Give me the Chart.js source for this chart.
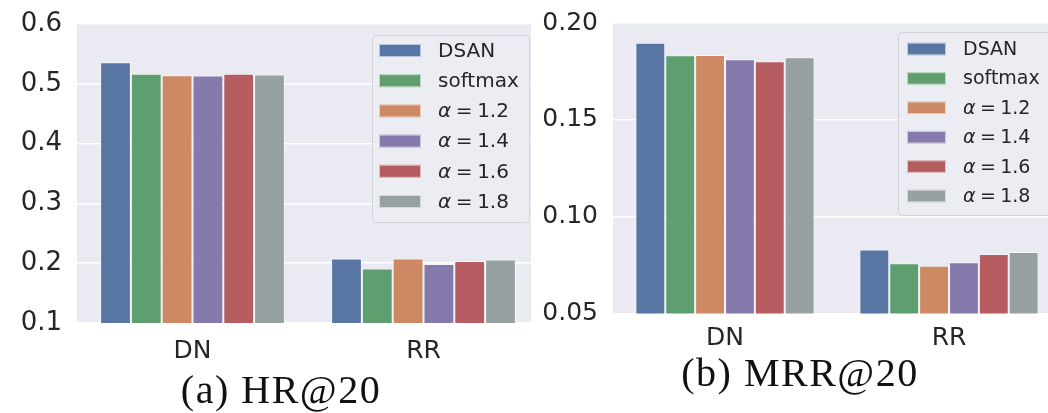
<!DOCTYPE html>
<html>
<head>
<meta charset="utf-8">
<script src="https://cdn.jsdelivr.net/npm/chart.js@4/dist/chart.umd.min.js"></script>
<style>
  html, body { margin: 0; padding: 0; background: #fff; overflow: hidden; width: 1048px; height: 413px; }
  .panel { position: absolute; top: 0; height: 413px; overflow: hidden; }
  #pa { left: 0; width: 531px; }
  #pb { left: 531px; width: 517px; }
  .cap { position: absolute; font-family: "Liberation Serif", "Times New Roman", serif; font-size: 40px;
         letter-spacing: 1.5px; color: #111; white-space: pre; line-height: 40px; transform: translateX(-50%); }
</style>
</head>
<body>
<div id="pa" class="panel"><canvas id="ca" width="545" height="413"></canvas></div>
<div id="pb" class="panel"><canvas id="cb" width="545" height="413"></canvas></div>
<div class="cap" style="left:281px; top:370px">(a) HR@20</div>
<div class="cap" style="left:800px; top:353px">(b) MRR@20</div>
<script>
// Datasets and categories
const categories = ['DN', 'RR'];
const seriesNames = ['DSAN', 'softmax', 'α = 1.2', 'α = 1.4', 'α = 1.6', 'α = 1.8'];
const seriesColors = ['#5975A4', '#5F9E6E', '#CC8963', '#857AAB', '#B55D60', '#98A1A1'];

// HR@20 per series, one array per category
const hrDN = [0.536, 0.517, 0.5145, 0.514, 0.517, 0.5155];
const hrRR = [0.208, 0.191, 0.208, 0.1985, 0.2035, 0.2063];
// MRR@20 per series, one array per category
const mrrDN = [0.1898, 0.1833, 0.1835, 0.1813, 0.1802, 0.1823];
const mrrRR = [0.0831, 0.0759, 0.0747, 0.0764, 0.0807, 0.0818];

// Axis ticks
const hrTicks = [0.1, 0.2, 0.3, 0.4, 0.5, 0.6];
const mrrTicks = [0.05, 0.10, 0.15, 0.20];

const TEXT = '#262626';
const SANS = '"DejaVu Sans", sans-serif';

// Seaborn-like grey panel behind the plot
const panelBg = {
  id: 'panelBg',
  beforeDraw(chart) {
    const a = chart.chartArea, ctx = chart.ctx;
    ctx.save();
    ctx.fillStyle = '#EAEAF2';
    ctx.fillRect(a.left, a.top, a.right - a.left, a.bottom - a.top);
    ctx.restore();
  }
};

function drawLegendLabel(ctx, text, x, y, size) {
  ctx.textBaseline = 'middle';
  ctx.textAlign = 'left';
  ctx.fillStyle = TEXT;
  const m = text.match(/^α\s*=\s*(.+)$/);
  if (!m) {
    ctx.font = size + 'px ' + SANS;
    ctx.fillText(text, x, y);
    return;
  }
  const gap = size * 0.23;
  ctx.font = 'italic ' + size + 'px ' + SANS;
  ctx.fillText('α', x, y);
  x += ctx.measureText('α').width + gap;
  ctx.font = size + 'px ' + SANS;
  ctx.fillText('=', x, y);
  x += ctx.measureText('=').width + gap;
  ctx.fillText(m[1], x, y);
}

// Legend drawn inside the plot area, upper right
const insideLegend = {
  id: 'insideLegend',
  afterDatasetsDraw(chart, args, o) {
    const ctx = chart.ctx;
    ctx.save();
    ctx.beginPath();
    ctx.roundRect(o.x + 0.5, o.y + 0.5, o.w, o.h, 4);
    ctx.fillStyle = 'rgba(236,236,243,0.85)';
    ctx.fill();
    ctx.strokeStyle = '#d2d2d8';
    ctx.lineWidth = 1;
    ctx.stroke();
    chart.data.datasets.forEach((ds, i) => {
      const cy = o.rowY + i * o.rowGap;
      ctx.fillStyle = ds.backgroundColor;
      ctx.fillRect(o.patchX, cy - o.patchH / 2, o.patchW, o.patchH);
      ctx.strokeStyle = 'rgba(255,255,255,0.6)';
      ctx.strokeRect(o.patchX + 0.5, cy - o.patchH / 2 + 0.5, o.patchW - 1, o.patchH - 1);
      drawLegendLabel(ctx, ds.label, o.textX, cy + 1, o.fontSize);
    });
    ctx.restore();
  }
};

function buildDatasets(dnVals, rrVals) {
  return seriesNames.map((name, i) => ({
    label: name,
    data: [dnVals[i], rrVals[i]],
    backgroundColor: seriesColors[i],
    borderColor: 'rgba(255,255,255,0.55)',
    borderWidth: 1,
    categoryPercentage: 0.8,
    barPercentage: 1.0
  }));
}

function makeChart(canvasId, cfg) {
  return new Chart(document.getElementById(canvasId), {
    type: 'bar',
    data: { labels: categories, datasets: buildDatasets(cfg.dn, cfg.rr) },
    options: {
      responsive: false,
      animation: false,
      devicePixelRatio: 1,
      layout: { padding: { top: cfg.top, right: cfg.right, left: 0, bottom: 0 } },
      plugins: {
        legend: { display: false },
        tooltip: { enabled: false },
        insideLegend: cfg.legend
      },
      scales: {
        x: {
          grid: { display: false, drawTicks: false },
          border: { display: false },
          ticks: { color: TEXT, font: { family: SANS, size: cfg.xFont }, padding: cfg.xPad },
          afterFit: s => { s.height = cfg.xHeight; s.paddingLeft = 0; s.paddingRight = 0; }
        },
        y: {
          min: cfg.ticks[0],
          max: cfg.ticks[cfg.ticks.length - 1],
          grid: { color: '#ffffff', lineWidth: 1.5, drawTicks: false },
          border: { display: false },
          afterBuildTicks: s => { s.ticks = cfg.ticks.map(v => ({ value: v })); },
          ticks: {
            color: TEXT,
            font: { family: SANS, size: cfg.yFont },
            padding: 15,
            callback: v => Number(v).toFixed(cfg.decimals)
          },
          afterFit: s => { s.width = cfg.yWidth; s.paddingTop = 0; s.paddingBottom = 0; }
        }
      }
    },
    plugins: [panelBg, insideLegend]
  });
}

// (a) HR@20
makeChart('ca', {
  dn: hrDN, rr: hrRR, ticks: hrTicks, decimals: 1,
  top: 24, right: 6, yWidth: 77, xHeight: 90, xPad: 13, xFont: 25, yFont: 26,
  legend: { x: 372, y: 35, w: 157, h: 187, patchX: 379, patchW: 42, patchH: 13,
            rowY: 50.5, rowGap: 30.2, textX: 438, fontSize: 20 }
});

// (b) MRR@20
makeChart('cb', {
  dn: mrrDN, rr: mrrRR, ticks: mrrTicks, decimals: 2,
  top: 23, right: 15, yWidth: 82, xHeight: 99.5, xPad: 10, xFont: 25, yFont: 25,
  legend: { x: 367, y: 32, w: 180, h: 183, patchX: 376, patchW: 39, patchH: 12.5,
            rowY: 49, rowGap: 29.4, textX: 432, fontSize: 19 }
});
</script>
</body>
</html>
